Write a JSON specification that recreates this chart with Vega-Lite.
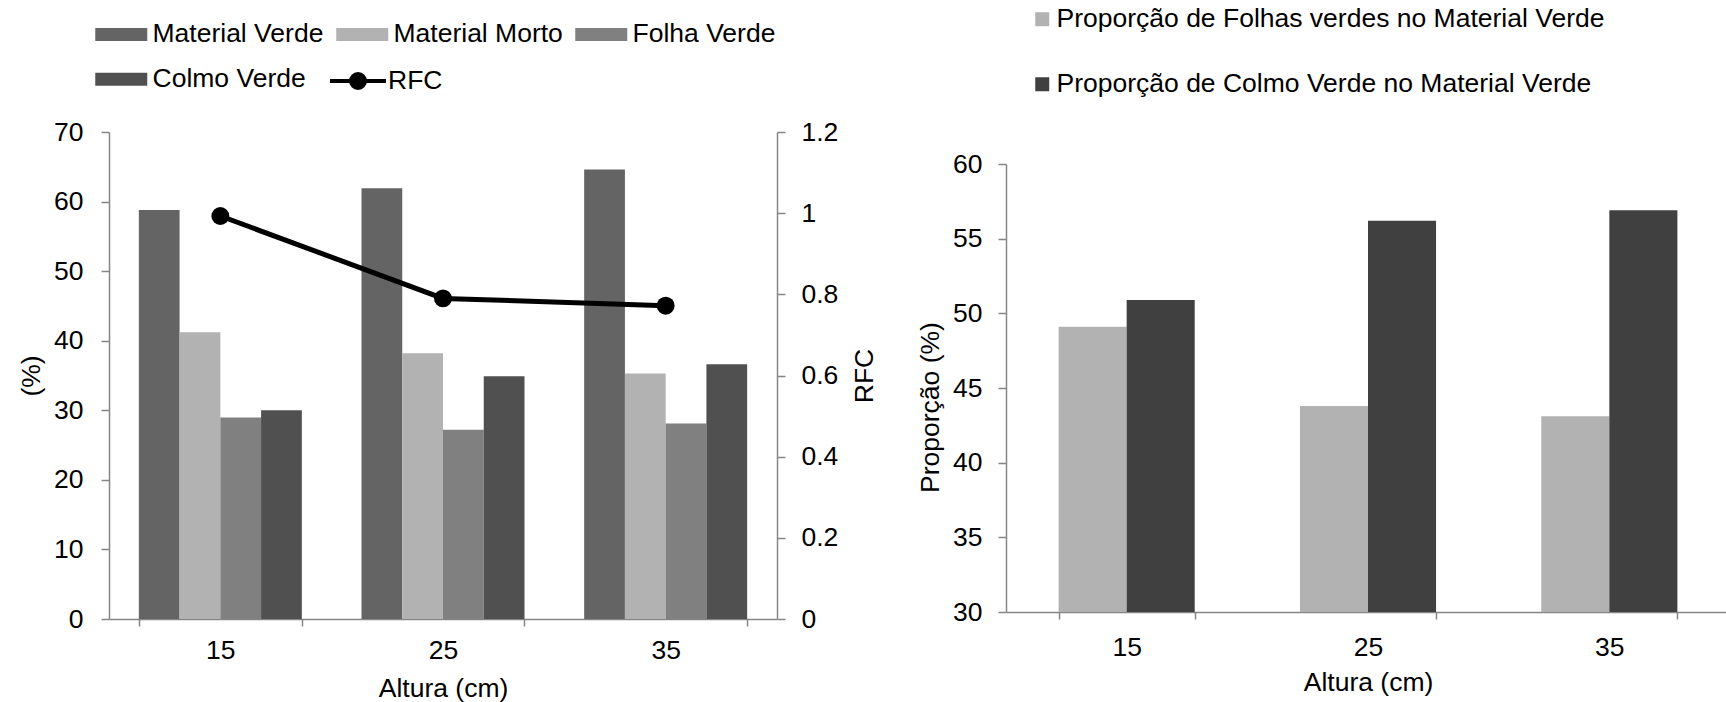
{
  "$schema": "https://vega.github.io/schema/vega-lite/v6.json",
  "background": "white",
  "autosize": {"type": "pad"},
  "padding": {"left": 18, "top": 6, "right": 0, "bottom": 0},
  "config": {
    "font": "Liberation Sans",
    "view": {"stroke": null},
    "axis": {
      "labelFont": "Liberation Sans", "labelFontSize": 26.5, "labelColor": "black",
      "titleFont": "Liberation Sans", "titleFontSize": 26.5, "titleFontWeight": "normal", "titleColor": "black",
      "domainColor": "#868686", "tickColor": "#868686", "domainWidth": 1.5, "tickWidth": 1.5,
      "tickSize": 8, "grid": false
    },
    "legend": {"labelFont": "Liberation Sans", "labelFontSize": 26.5, "labelColor": "black", "labelLimit": 0}
  },
  "datasets": {
    "componentes": [
      {"altura": "15", "serie": "Material Verde", "valor": 58.8},
      {"altura": "15", "serie": "Material Morto", "valor": 41.2},
      {"altura": "15", "serie": "Folha Verde", "valor": 28.95},
      {"altura": "15", "serie": "Colmo Verde", "valor": 30.0},
      {"altura": "25", "serie": "Material Verde", "valor": 61.9},
      {"altura": "25", "serie": "Material Morto", "valor": 38.2},
      {"altura": "25", "serie": "Folha Verde", "valor": 27.2},
      {"altura": "25", "serie": "Colmo Verde", "valor": 34.9},
      {"altura": "35", "serie": "Material Verde", "valor": 64.6},
      {"altura": "35", "serie": "Material Morto", "valor": 35.3},
      {"altura": "35", "serie": "Folha Verde", "valor": 28.1},
      {"altura": "35", "serie": "Colmo Verde", "valor": 36.6}
    ],
    "rfc": [
      {"altura": "15", "rfc": 0.993},
      {"altura": "25", "rfc": 0.79},
      {"altura": "35", "rfc": 0.772}
    ],
    "proporcao": [
      {"altura": "15", "serie": "Proporção de Folhas verdes no Material Verde", "valor": 49.1},
      {"altura": "15", "serie": "Proporção de Colmo Verde no Material Verde", "valor": 50.9},
      {"altura": "25", "serie": "Proporção de Folhas verdes no Material Verde", "valor": 43.8},
      {"altura": "25", "serie": "Proporção de Colmo Verde no Material Verde", "valor": 56.2},
      {"altura": "35", "serie": "Proporção de Folhas verdes no Material Verde", "valor": 43.1},
      {"altura": "35", "serie": "Proporção de Colmo Verde no Material Verde", "valor": 56.9}
    ]
  },
  "spacing": 38,
  "align": "none",
  "resolve": {"scale": {"color": "independent", "xOffset": "independent"}, "legend": {"color": "independent"}},
  "hconcat": [
    {
      "width": 668,
      "height": 487,
      "encoding": {
        "x": {
          "field": "altura", "type": "nominal", "sort": ["15", "25", "35"],
          "scale": {"paddingInner": 0.268, "paddingOuter": 0.134},
          "axis": {"title": "Altura (cm)", "labelAngle": 0, "tickBand": "extent", "tickSize": 7, "labelPadding": 11, "titlePadding": 12}
        }
      },
      "layer": [
        {
          "data": {"name": "componentes"},
          "mark": {"type": "bar"},
          "encoding": {
            "xOffset": {"field": "serie", "type": "nominal", "sort": ["Material Verde", "Material Morto", "Folha Verde", "Colmo Verde"], "scale": {"domain": ["Material Verde", "Material Morto", "Folha Verde", "Colmo Verde"], "paddingInner": 0, "paddingOuter": 0}},
            "y": {
              "field": "valor", "type": "quantitative",
              "scale": {"domain": [0, 70]},
              "axis": {"title": "(%)", "values": [0, 10, 20, 30, 40, 50, 60, 70], "labelPadding": 18, "titlePadding": 8}
            },
            "color": {
              "field": "serie", "type": "nominal",
              "scale": {"domain": ["Material Verde", "Material Morto", "Folha Verde", "Colmo Verde"], "range": ["#646464", "#b2b2b2", "#808080", "#505050"]},
              "legend": {
                "title": null, "orient": "none", "direction": "horizontal", "legendX": -29, "legendY": -126, "padding": 15,
                "columns": 3, "columnPadding": 12, "rowPadding": 18,
                "values": ["Material Verde", "Material Morto", "Folha Verde", "Colmo Verde"],
                "symbolType": "M-1,-0.5H3V0.5H-1Z", "symbolSize": 676, "symbolStrokeWidth": 0, "labelOffset": 31
              }
            }
          }
        },
        {
          "data": {"name": "rfc"},
          "encoding": {
            "y": {
              "field": "rfc", "type": "quantitative",
              "scale": {"domain": [0, 1.2]},
              "axis": {"title": "RFC", "orient": "right", "values": [0, 0.2, 0.4, 0.6, 0.8, 1, 1.2], "format": "~g", "labelPadding": 16, "titlePadding": 14, "titleAngle": 270, "titleBaseline": "top"}
            }
          },
          "layer": [
            {"mark": {"type": "line", "color": "black", "strokeWidth": 5}},
            {
              "mark": {"type": "point", "filled": true, "size": 320, "opacity": 1, "color": "black"},
              "encoding": {
                "fill": {
                  "datum": "RFC",
                  "scale": {"range": ["black"]},
                  "legend": {
                    "title": null, "orient": "none", "legendX": 219, "legendY": -67, "padding": 0,
                    "symbolType": "M-1,0H3M1.5,0A0.5,0.5 0 1,1 0.5,0A0.5,0.5 0 1,1 1.5,0",
                    "symbolSize": 784, "symbolStrokeWidth": 4, "symbolStrokeColor": "black", "symbolFillColor": "black", "labelOffset": 28,
                    "encode": {"symbols": {"update": {"stroke": {"value": "black"}, "strokeWidth": {"value": 4}, "fill": {"value": "black"}, "opacity": {"value": 1}}}}
                  }
                }
              }
            }
          ]
        }
      ],
      "resolve": {"scale": {"y": "independent"}}
    },
    {
      "width": 724,
      "height": 480,
      "data": {"name": "proporcao"},
      "mark": {"type": "bar"},
      "encoding": {
        "x": {
          "field": "altura", "type": "nominal", "sort": ["15", "25", "35"],
          "scale": {"paddingInner": 0.436, "paddingOuter": 0.218},
          "axis": {"title": "Altura (cm)", "labelAngle": 0, "tickBand": "extent", "tickSize": 7, "labelPadding": 15, "titlePadding": 9}
        },
        "xOffset": {"field": "serie", "type": "nominal", "sort": ["Proporção de Folhas verdes no Material Verde", "Proporção de Colmo Verde no Material Verde"], "scale": {"domain": ["Proporção de Folhas verdes no Material Verde", "Proporção de Colmo Verde no Material Verde"], "paddingInner": 0, "paddingOuter": 0}},
        "y": {
          "field": "valor", "type": "quantitative",
          "scale": {"domain": [30, 60], "zero": false, "range": [480, 32]},
          "axis": {"title": "Proporção (%)", "values": [30, 35, 40, 45, 50, 55, 60], "labelPadding": 16, "titlePadding": 8, "titleY": 275}
        },
        "y2": {"datum": 30},
        "color": {
          "field": "serie", "type": "nominal",
          "scale": {"domain": ["Proporção de Folhas verdes no Material Verde", "Proporção de Colmo Verde no Material Verde"], "range": ["#b2b2b2", "#404040"]},
          "legend": {
            "title": null, "orient": "none", "legendX": 23, "legendY": -126, "padding": 0,
            "symbolType": "square", "symbolSize": 196, "symbolStrokeWidth": 0, "rowPadding": 38, "labelOffset": 1
          }
        }
      }
    }
  ]
}
